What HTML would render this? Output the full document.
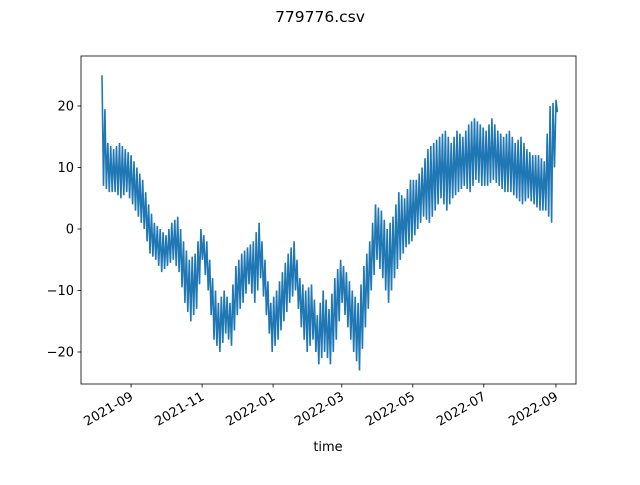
<!DOCTYPE html>
<html><head><meta charset="utf-8"><style>
body{margin:0;background:#fff;font-family:"Liberation Sans","DejaVu Sans",sans-serif}
svg text{font-family:"DejaVu Sans","Liberation Sans",sans-serif;font-size:13px;fill:#000}
</style></head><body>
<svg id="c" width="640" height="480" xmlns="http://www.w3.org/2000/svg">
<rect width="640" height="480" fill="#fff"/>
<text x="320" y="22" text-anchor="middle" style="font-size:15.5px">779776.csv</text>
<text x="328" y="451" text-anchor="middle">time</text>
<g id="plot"></g>
<rect x="81" y="56" width="495" height="328" fill="none" stroke="#000" stroke-width="0.8"/>
</svg>
<script>
const startDay = 0; // Aug 7 2021
const stepDays = 5;
const seriesMin = [7,6,6,5,6,4,2,0,-4,-5,-7,-6,-5,-7,-12,-15,-13,-5,-10,-18,-20,-17,-19,-14,-12,-9,-12,-8,-14,-20,-18,-15,-12,-10,-16,-20,-18,-22,-20,-22,-18,-12,-16,-20,-23,-16,-10,-5,-8,-12,-8,-5,-3,-2,0,2,1,3,5,3,5,6,7,6,8,7,7,8,7,6,6,5,4,5,4,3,3,1,19];
const seriesMax = [25,14,13,14,13,12,10,8,4,1,0,-1,1,2,-2,-5,-4,0,-2,-8,-12,-10,-12,-6,-4,-3,-2,1,-5,-12,-10,-7,-4,-2,-8,-10,-9,-14,-10,-13,-8,-5,-7,-10,-12,-6,-2,4,3,0,2,6,5,8,8,10,13,14,15,16,14,16,15,17,18,17,16,18,16,15,16,14,15,13,12,12,11,20,21];
const yTicks = [-20,-10,0,10,20];
const xTickLabels = ["2021-09","2021-11","2022-01","2022-03","2022-05","2022-07","2022-09"];
const xTickDays = [25,86,147,206,267,328,390];
const NS="http://www.w3.org/2000/svg";
const g=document.getElementById('plot');
const X=d=>102+d*1.164;
const Y=v=>229-v*6.15;
let pts=[];
const sub=2;
for(let i=0;i<seriesMin.length;i++){
  const d0=startDay+i*stepDays;
  const j=Math.min(i+1,seriesMin.length-1);
  const last=(i===seriesMin.length-1);
  const n=last?1:sub;
  for(let k=0;k<n;k++){
    const f=k/sub;
    const hi=seriesMax[i]+(seriesMax[j]-seriesMax[i])*f;
    const lo=seriesMin[i]+(seriesMin[j]-seriesMin[i])*f;
    const dd=d0+stepDays*f;
    pts.push(X(dd).toFixed(1)+','+Y(hi).toFixed(1));
    pts.push(X(dd+stepDays/(2*sub)).toFixed(1)+','+Y(lo).toFixed(1));
  }
}
const pl=document.createElementNS(NS,'polyline');
pl.setAttribute('points',pts.join(' '));
pl.setAttribute('fill','none');pl.setAttribute('stroke','#1f77b4');pl.setAttribute('stroke-width','1.6');


g.appendChild(pl);
yTicks.forEach(v=>{
  const t=document.createElementNS(NS,'line');
  t.setAttribute('x1',77.5);t.setAttribute('x2',81);t.setAttribute('y1',Y(v));t.setAttribute('y2',Y(v));t.setAttribute('stroke','#000');t.setAttribute('stroke-width','0.8');
  
  
  g.appendChild(t);
  const l=document.createElementNS(NS,'text');
  l.setAttribute('x',74);l.setAttribute('y',Y(v)+4.5);l.setAttribute('text-anchor','end');
  l.textContent=(v<0?'\u2212'+(-v):v);
  
  
  g.appendChild(l);
});
xTickDays.forEach((d,i)=>{
  const x=X(d);
  const t=document.createElementNS(NS,'line');
  t.setAttribute('x1',x);t.setAttribute('x2',x);t.setAttribute('y1',384);t.setAttribute('y2',387.5);t.setAttribute('stroke','#000');t.setAttribute('stroke-width','0.8');
  
  
  g.appendChild(t);
  const l=document.createElementNS(NS,'text');
  l.setAttribute('text-anchor','end');
  l.setAttribute('transform','translate('+(x+3)+',399) rotate(-30)');
  l.textContent=xTickLabels[i];
  
  
  g.appendChild(l);
});
</script>
</body></html>
